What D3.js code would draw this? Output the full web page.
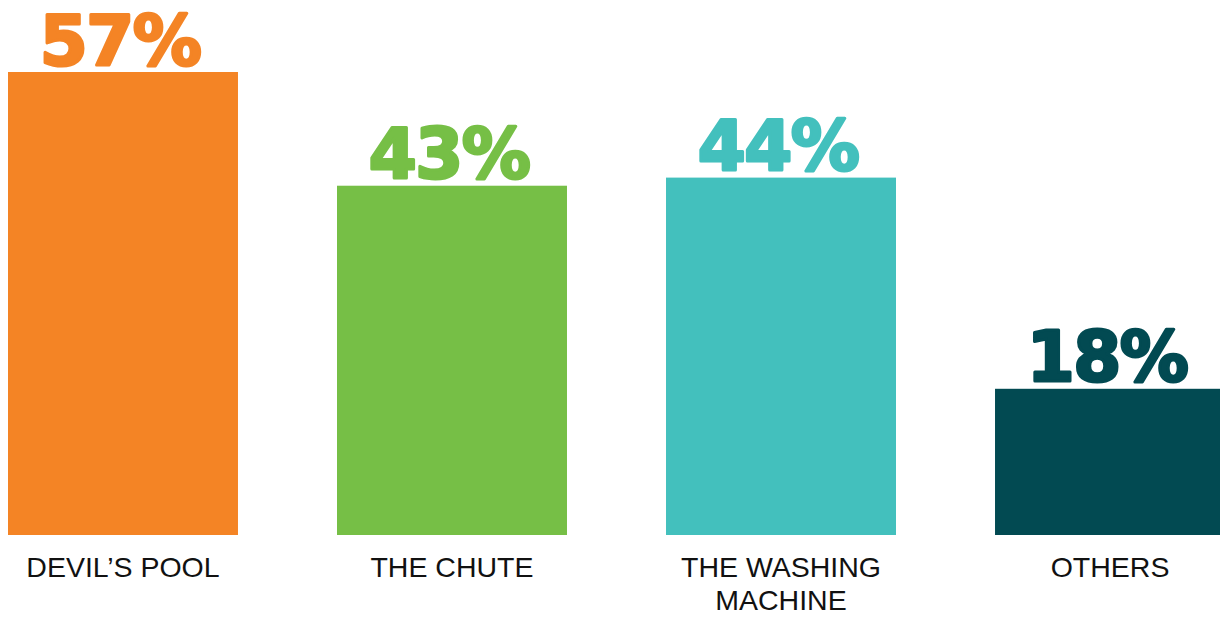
<!DOCTYPE html>
<html>
<head>
<meta charset="utf-8">
<script src="https://cdn.jsdelivr.net/npm/d3@7"></script>
<style>
  html, body { margin: 0; padding: 0; background: #ffffff; }
  svg { display: block; }
</style>
</head>
<body>
<svg id="chart" width="1220" height="617"></svg>
<script>
// Share of respondents naming each spot
const categories = ["DEVIL\u2019S POOL", "THE CHUTE", "THE WASHING MACHINE", "OTHERS"];
const categoryLines = [["DEVIL\u2019S POOL"], ["THE CHUTE"], ["THE WASHING", "MACHINE"], ["OTHERS"]];
const values = [57, 43, 44, 18];
const valueLabels = ["57%", "43%", "44%", "18%"];
const colors = ["#F48425", "#76BF46", "#43C0BD", "#024A52"];

const svg = d3.select("#chart");
const baseline = 535;

const x = d3.scaleBand()
  .domain(categories)
  .range([8, 1225])
  .paddingInner(0.301)
  .paddingOuter(0);

const y = d3.scaleLinear()
  .domain([0, 57])
  .range([baseline, 72]);

const data = categories.map((c, i) => ({
  cat: c, lines: categoryLines[i], value: values[i], label: valueLabels[i], color: colors[i]
}));

// bars
svg.append("g").selectAll("rect")
  .data(data)
  .join("rect")
  .attr("x", d => x(d.cat))
  .attr("y", d => y(d.value))
  .attr("width", x.bandwidth())
  .attr("height", d => baseline - y(d.value))
  .attr("fill", d => d.color);

// value labels above each bar, heavy weight via a matching stroke
svg.append("g").selectAll("text")
  .data(data)
  .join("text")
  .attr("x", d => x(d.cat) + x.bandwidth() / 2 - 3)
  .attr("y", d => y(d.value) - 7.5)
  .attr("text-anchor", "middle")
  .attr("font-family", "'DejaVu Sans', sans-serif")
  .attr("font-weight", "bold")
  .attr("font-size", 69)
  .attr("fill", d => d.color)
  .attr("stroke", d => d.color)
  .attr("stroke-width", 3)
  .attr("stroke-linejoin", "round")
  .attr("letter-spacing", -1.5)
  .text(d => d.label);

// category labels under the bars
const cat = svg.append("g").selectAll("text")
  .data(data)
  .join("text")
  .attr("x", d => x(d.cat) + x.bandwidth() / 2)
  .attr("y", 577)
  .attr("text-anchor", "middle")
  .attr("font-family", "'Liberation Sans', Arial, sans-serif")
  .attr("font-size", 28.5)
  .attr("fill", "#111111");

cat.selectAll("tspan")
  .data(d => d.lines.map((l, i) => ({ l, i, cx: x(d.cat) + x.bandwidth() / 2 })))
  .join("tspan")
  .attr("x", t => t.cx)
  .attr("dy", t => t.i === 0 ? 0 : 33)
  .text(t => t.l);
</script>
</body>
</html>
